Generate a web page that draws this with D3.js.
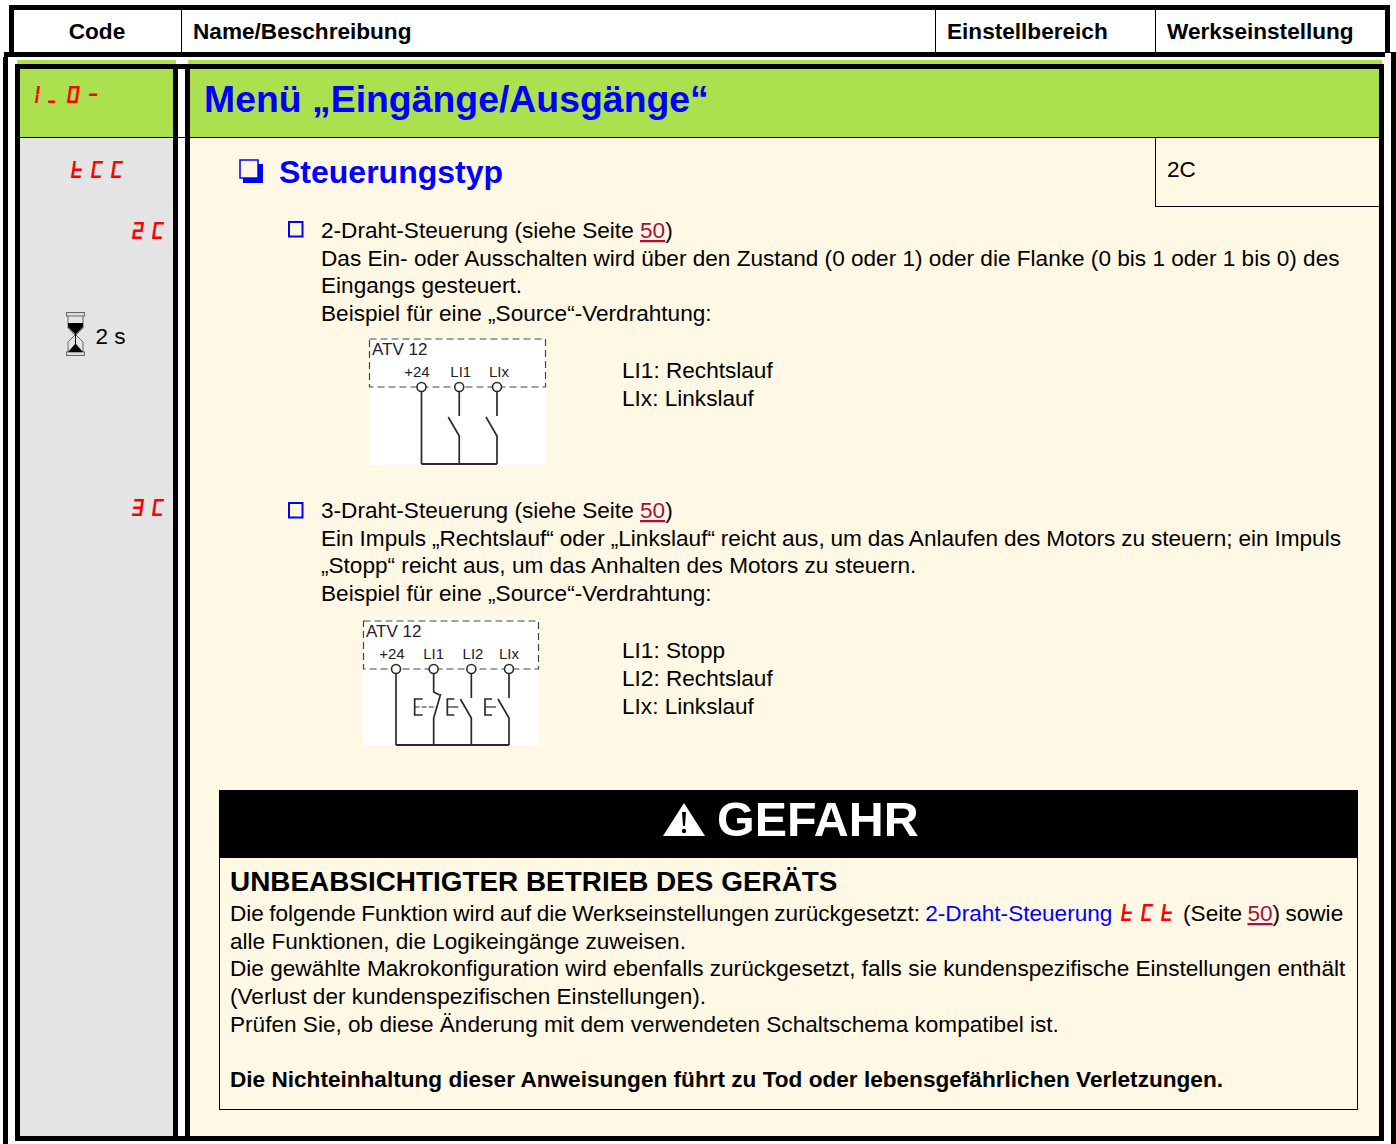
<!DOCTYPE html>
<html lang="de">
<head>
<meta charset="utf-8">
<script src="https://cdn.jsdelivr.net/npm/d3@7"></script>
<style>
    html, body { margin: 0; padding: 0; background: #fff; }
    svg { display: block; }
    text { font-family: "Liberation Sans", Arial, sans-serif; white-space: pre; }
</style>
</head>
<body>
<div id="page"></div>
<script>
// texts of the page
const headerLabels = ["Code", "Name/Beschreibung", "Einstellbereich", "Werkseinstellung"];
const menuCode = "I_O-";
const menuTitle = "Menü „Eingänge/Ausgänge“";
const paramCode = "tCC";
const paramTitle = "Steuerungstyp";
const defaultValue = "2C";
const timeLabel = "2 s";

const twoWireCode = "2C";
const twoWireLines = [
    [["2-Draht-Steuerung (siehe Seite "], ["50", "link"], [")"]],
    [["Das Ein- oder Ausschalten wird über den Zustand (0 oder 1) oder die Flanke (0 bis 1 oder 1 bis 0) des"]],
    [["Eingangs gesteuert."]],
    [["Beispiel für eine „Source“-Verdrahtung:"]]
];
const twoWireTerminals = ["+24", "LI1", "LIx"];
const twoWireLegend = ["LI1: Rechtslauf", "LIx: Linkslauf"];

const threeWireCode = "3C";
const threeWireLines = [
    [["3-Draht-Steuerung (siehe Seite "], ["50", "link"], [")"]],
    [["Ein Impuls „Rechtslauf“ oder „Linkslauf“ reicht aus, um das Anlaufen des Motors zu steuern; ein Impuls"]],
    [["„Stopp“ reicht aus, um das Anhalten des Motors zu steuern."]],
    [["Beispiel für eine „Source“-Verdrahtung:"]]
];
const threeWireTerminals = ["+24", "LI1", "LI2", "LIx"];
const threeWireLegend = ["LI1: Stopp", "LI2: Rechtslauf", "LIx: Linkslauf"];

const dangerTitle = "GEFAHR";
const dangerHeading = "UNBEABSICHTIGTER BETRIEB DES GERÄTS";
const dangerLines = [
    [["Die folgende Funktion wird auf die Werkseinstellungen zurückgesetzt: "], ["2-Draht-Steuerung ", "blue"], ["tCt", "seg"], [" (Seite ", "afterSeg"], ["50", "link"], [") sowie"]],
    [["alle Funktionen, die Logikeingänge zuweisen."]],
    [["Die gewählte Makrokonfiguration wird ebenfalls zurückgesetzt, falls sie kundenspezifische Einstellungen enthält"]],
    [["(Verlust der kundenspezifischen Einstellungen)."]],
    [["Prüfen Sie, ob diese Änderung mit dem verwendeten Schaltschema kompatibel ist."]],
    [[""]],
    [["Die Nichteinhaltung dieser Anweisungen führt zu Tod oder lebensgefährlichen Verletzungen.", "bold"]]
];

const GREEN = "#abe14e";
const CREAM = "#fff8e5";
const GREY = "#e4e4e4";
const BLUE = "#0000ff";
const RED = "#ff0000";
const LINK = "#a5103c";
const BODY_SIZE = 22.6;
const SEG_SIZE = 20;
const LINE_H = 27.7;

// 7-segment display font for the red codes, built here so they stay real text.
// segments of each character, width and advance in font units
const SEG_H = 830;
const SEG_T = 125;
const SEG_SLANT = 0.15;
const segGlyphs = {
    "-": { segs: "g", w: 400, adv: 500 },
    "2": { segs: "abged", w: 480, adv: 1000 },
    "3": { segs: "abgcd", w: 480, adv: 1000 },
    "C": { segs: "afed", w: 480, adv: 1000 },
    "I": { segs: "fe", w: SEG_T, adv: 650 },
    "O": { segs: "abcdef", w: 520, adv: 1100 },
    "_": { segs: "d", w: 350, adv: 950 },
    "t": { segs: "fegd", w: 480, adv: 1000 }
};

function u16(v) { return [(v >> 8) & 255, v & 255]; }
function u32(v) { return [(v >>> 24) & 255, (v >>> 16) & 255, (v >>> 8) & 255, v & 255]; }

function segRects(g) {
    const w = g.w, h = SEG_H, t = SEG_T;
    const rects = {
        a: [0, h - t, w, h],
        b: [w - t, h / 2, w, h],
        c: [w - t, 0, w, h / 2],
        d: [0, 0, w, t],
        e: [0, 0, t, h / 2],
        f: [0, h / 2, t, h],
        g: [0, h / 2 - t / 2, w, h / 2 + t / 2]
    };
    return Array.from(g.segs, s => rects[s]);
}

function glyphBytes(g) {
    const pts = [];
    const ends = [];
    segRects(g).forEach(([x0, y0, x1, y1]) => {
        [[x0, y0], [x0, y1], [x1, y1], [x1, y0]].forEach(([x, y]) => {
            pts.push([Math.round(x + y * SEG_SLANT), Math.round(y)]);
        });
        ends.push(pts.length - 1);
    });
    let out = [...u16(ends.length)];
    [d3.min(pts, p => p[0]), d3.min(pts, p => p[1]), d3.max(pts, p => p[0]), d3.max(pts, p => p[1])]
        .forEach(v => { out = out.concat(u16(v)); });
    ends.forEach(e => { out = out.concat(u16(e)); });
    out = out.concat(u16(0));
    pts.forEach(() => out.push(1));
    let prev = 0;
    pts.forEach(p => { out = out.concat(u16(p[0] - prev)); prev = p[0]; });
    prev = 0;
    pts.forEach(p => { out = out.concat(u16(p[1] - prev)); prev = p[1]; });
    while (out.length % 4) out.push(0);
    return { out, count: pts.length, contours: ends.length };
}

function buildSegFont() {
    const chars = Object.keys(segGlyphs).sort();
    const built = chars.map(c => glyphBytes(segGlyphs[c]));
    const advMax = d3.max(chars, c => segGlyphs[c].adv);

    let glyf = [];
    let loca = [...u32(0), ...u32(0)]; // .notdef is empty
    built.forEach(b => { glyf = glyf.concat(b.out); loca = loca.concat(u32(glyf.length)); });

    let hmtx = [...u16(1000), ...u16(0)];
    chars.forEach(c => { hmtx = hmtx.concat(u16(segGlyphs[c].adv), u16(0)); });

    const zeros = n => new Array(n).fill(0);
    const head = [...u32(0x00010000), ...u32(0x00010000), ...u32(0), ...u32(0x5F0F3CF5), ...u16(0), ...u16(1000),
        ...zeros(16), ...u16(0), ...u16(0), ...u16(1200), ...u16(1000), ...u16(0), ...u16(8), ...u16(2), ...u16(1), ...u16(0)];
    const hhea = [...u32(0x00010000), ...u16(1000), ...u16(65336), ...u16(0), ...u16(advMax), ...u16(0), ...u16(0), ...u16(1200),
        ...u16(1), ...u16(0), ...u16(0), ...zeros(8), ...u16(0), ...u16(chars.length + 1)];
    const maxp = [...u32(0x00010000), ...u16(chars.length + 1), ...u16(d3.max(built, b => b.count)), ...u16(d3.max(built, b => b.contours)),
        ...u16(0), ...u16(0), ...u16(1), ...zeros(16)];
    const post = [...u32(0x00030000), ...zeros(28)];
    const os2 = [...u16(0), ...u16(800), ...u16(400), ...u16(5), ...u16(0), ...zeros(20), ...zeros(2), ...zeros(10), ...zeros(16),
        65, 66, 67, 68, ...u16(0x40), ...u16(chars[0].charCodeAt(0)), ...u16(chars[chars.length - 1].charCodeAt(0)),
        ...u16(1000), ...u16(65336), ...u16(0), ...u16(1000), ...u16(200)];

    // cmap format 4, one segment per character
    const codes = chars.map(c => c.charCodeAt(0));
    const segCount = codes.length + 1;
    const entrySel = Math.floor(Math.log2(segCount));
    const searchRange = 2 * (1 << entrySel);
    const cmap = [...u16(0), ...u16(1), ...u16(3), ...u16(1), ...u32(12), ...u16(4), ...u16(16 + 8 * segCount), ...u16(0),
        ...u16(segCount * 2), ...u16(searchRange), ...u16(entrySel), ...u16(segCount * 2 - searchRange),
        ...codes.flatMap(c => u16(c)), ...u16(0xFFFF), ...u16(0),
        ...codes.flatMap(c => u16(c)), ...u16(0xFFFF),
        ...codes.flatMap((c, i) => u16((i + 1 - c) & 0xFFFF)), ...u16(1),
        ...zeros(segCount * 2)];

    // name table
    const nameStr = Array.from("Seg7").flatMap(c => u16(c.charCodeAt(0)));
    const nameIds = [1, 4, 6];
    const name = [...u16(0), ...u16(nameIds.length), ...u16(6 + 12 * nameIds.length),
        ...nameIds.flatMap(id => [...u16(3), ...u16(1), ...u16(0x409), ...u16(id), ...u16(nameStr.length), ...u16(0)]),
        ...nameStr];

    const tables = [["OS/2", os2], ["cmap", cmap], ["glyf", glyf], ["head", head], ["hhea", hhea],
        ["hmtx", hmtx], ["loca", loca], ["maxp", maxp], ["name", name], ["post", post]];

    let dir = [...u32(0x00010000), ...u16(tables.length), ...u16(128), ...u16(3), ...u16(tables.length * 16 - 128)];
    let body = [];
    const start = 12 + 16 * tables.length;
    tables.forEach(([tag, data]) => {
        const padded = data.concat(zeros((4 - data.length % 4) % 4));
        let sum = 0;
        for (let i = 0; i < padded.length; i += 4) {
            sum = (sum + ((padded[i] << 24) | (padded[i + 1] << 16) | (padded[i + 2] << 8) | padded[i + 3])) >>> 0;
        }
        dir = dir.concat(Array.from(tag, c => c.charCodeAt(0)), u32(sum), u32(start + body.length), u32(data.length));
        body = body.concat(padded);
    });
    return new Uint8Array(dir.concat(body)).buffer;
}

const segFont = new FontFace("Seg7", buildSegFont());
document.fonts.add(segFont);
segFont.load().catch(e => console.log("seg font failed", e));

const svg = d3.select("#page").append("svg")
    .attr("width", 1396)
    .attr("height", 1144)
    .attr("viewBox", "0 0 1396 1144");

function box(x0, y0, x1, y1, fill) {
    return svg.append("rect")
        .attr("x", x0).attr("y", y0)
        .attr("width", x1 - x0).attr("height", y1 - y0)
        .attr("fill", fill);
}

function label(txt, x, y, size, opts = {}) {
    return svg.append("text")
        .attr("x", x).attr("y", y)
        .attr("font-size", size)
        .attr("font-weight", opts.bold ? "bold" : null)
        .attr("text-anchor", opts.anchor || null)
        .attr("fill", opts.fill || "#000")
        .text(txt);
}

// red display code of the drive
function segCode(txt, x, y) {
    return svg.append("text")
        .attr("x", x).attr("y", y)
        .style("font-family", "Seg7, 'Liberation Sans'")
        .attr("font-size", SEG_SIZE)
        .attr("fill", RED)
        .text(txt);
}

// a block of text lines, every line is a list of [text, kind] runs
function textBlock(lines, x, y0, wordSpacing = []) {
    const yscale = d3.scaleLinear().domain([0, 1]).range([y0, y0 + LINE_H]);
    svg.append("g").selectAll("text")
        .data(lines)
        .join("text")
        .attr("x", x)
        .attr("y", (d, i) => yscale(i))
        .attr("font-size", BODY_SIZE)
        .attr("word-spacing", (d, i) => wordSpacing[i] || null)
        .selectAll("tspan")
        .data(d => d)
        .join("tspan")
        .attr("dx", d => ({ seg: 3, afterSeg: -3 })[d[1]] || null)
        .attr("font-weight", d => d[1] === "bold" ? "bold" : null)
        .attr("text-decoration", d => d[1] === "link" ? "underline" : null)
        .attr("fill", d => ({ link: LINK, blue: BLUE, seg: RED })[d[1]] || "#000")
        .style("font-family", d => d[1] === "seg" ? "Seg7, 'Liberation Sans'" : null)
        .style("font-size", d => d[1] === "seg" ? SEG_SIZE + "px" : null)
        .text(d => d[0]);
}

function bullet(x, y) {
    svg.append("rect")
        .attr("x", x).attr("y", y)
        .attr("width", 13.5).attr("height", 14.5)
        .attr("fill", "none")
        .attr("stroke", BLUE)
        .attr("stroke-width", 2);
}

function legend(items, x, y0) {
    svg.append("g").selectAll("text")
        .data(items)
        .join("text")
        .attr("x", x)
        .attr("y", (d, i) => y0 + i * 28)
        .attr("font-size", BODY_SIZE)
        .text(d => d);
}

const wire = d3.line();
function wirePath(points, width = 1.7) {
    svg.append("path")
        .attr("d", wire(points))
        .attr("fill", "none")
        .attr("stroke", "#2a2a2a")
        .attr("stroke-width", width);
}

// the little wiring diagram, contacts: "none", "no" (normally open), "nc" (normally closed)
function diagram(x0, y0, x1, y1, terminals, contacts, xrange, labelOffsets, hasPush) {
    box(x0, y0, x1, y1, "#fff");
    const boxBottom = y0 + 49;
    svg.append("rect")
        .attr("x", x0 + 0.5).attr("y", y0 + 1)
        .attr("width", x1 - x0 - 1).attr("height", 48)
        .attr("fill", "none")
        .attr("stroke", "#444")
        .attr("stroke-width", 1.2)
        .attr("stroke-dasharray", "7,4");
    label("ATV 12", x0 + 3, y0 + 17, 17, { fill: "#222" });

    const xscale = d3.scalePoint().domain(terminals).range(xrange);
    const stubEnd = boxBottom + 29;
    const contactEnd = boxBottom + 49;

    svg.append("g").selectAll("text")
        .data(terminals)
        .join("text")
        .attr("x", (d, i) => xscale(d) + labelOffsets[i])
        .attr("y", boxBottom - 10)
        .attr("text-anchor", "middle")
        .attr("font-size", 15)
        .attr("fill", "#222")
        .text(d => d);

    terminals.forEach((t, i) => {
        const x = xscale(t);
        const kind = contacts[i];
        if (kind === "none") {
            wirePath([[x, boxBottom + 5], [x, y1 - 1]]);
        } else if (kind === "no") {
            wirePath([[x, boxBottom + 5], [x, stubEnd]]);
            wirePath([[x - 11, stubEnd + 1], [x, contactEnd], [x, y1 - 1]]);
            if (hasPush) {
                wirePath([[x - 17, stubEnd + 1], [x - 24, stubEnd + 1], [x - 24, stubEnd + 17], [x - 17, stubEnd + 17]]);
                wirePath([[x - 24, stubEnd + 9], [x - 13, stubEnd + 9]], 1.2);
            }
        } else {
            wirePath([[x, boxBottom + 5], [x, stubEnd - 6], [x + 6, stubEnd - 3]]);
            wirePath([[x + 7, stubEnd - 4], [x, contactEnd], [x, y1 - 1]]);
            wirePath([[x - 11, stubEnd + 1], [x - 19, stubEnd + 1], [x - 19, stubEnd + 17], [x - 11, stubEnd + 17]]);
            svg.append("path")
                .attr("d", wire([[x - 19, stubEnd + 9], [x + 3, stubEnd + 9]]))
                .attr("stroke", "#2a2a2a")
                .attr("stroke-dasharray", "5,2");
        }
        svg.append("circle")
            .attr("cx", x).attr("cy", boxBottom)
            .attr("r", 4.5)
            .attr("fill", "#fff")
            .attr("stroke", "#2a2a2a")
            .attr("stroke-width", 1.6);
    });
    wirePath([[xrange[0], y1 - 1], [xrange[1], y1 - 1]], 1.8);
}

function hourglass(x, y) {
    const g = svg.append("g").attr("transform", `translate(${x},${y})`);
    g.append("rect").attr("x", 0.5).attr("y", 0.5).attr("width", 18).attr("height", 3.5).attr("fill", "#ddd").attr("stroke", "#666");
    g.append("rect").attr("x", 0.5).attr("y", 40).attr("width", 18).attr("height", 3.5).attr("fill", "#ddd").attr("stroke", "#666");
    g.append("path").attr("d", "M2,4V16L9,23L2,30V40M17,4V16L10,23L17,30V40").attr("fill", "none").attr("stroke", "#666").attr("stroke-width", 1);
    g.append("path").attr("d", "M2,11H17V15L10,22H9L2,15Z").attr("fill", "#000");
    g.append("path").attr("d", "M9,22H10V32L17,40H2L9,32Z").attr("fill", "#000");
}

function drawHeader() {
    box(9, 5, 1390, 52, "#000");
    box(14, 10, 1385, 52, "#fff");
    box(181, 10, 182, 52, "#000");
    box(935, 10, 936, 52, "#000");
    box(1155, 10, 1156, 52, "#000");
    label(headerLabels[0], 97, 39, BODY_SIZE, { bold: true, anchor: "middle" });
    label(headerLabels[1], 193, 39, BODY_SIZE, { bold: true });
    label(headerLabels[2], 947, 39, BODY_SIZE, { bold: true });
    label(headerLabels[3], 1167, 39, BODY_SIZE, { bold: true });
}

function drawFrame() {
    // outer frame, open at the bottom edge
    box(4, 52, 1385, 57, "#000");
    box(1385, 52, 1396, 53, "#000");
    box(3, 57, 8, 1144, "#000");
    box(1391, 53, 1396, 1144, "#000");
    box(8, 57, 1391, 1144, "#fff");
    box(1385, 53, 1391, 57, "#fff");

    // green strips above the inner frame
    box(17, 60, 176, 64, GREEN);
    box(188, 60, 1382, 64, GREEN);

    // inner cells
    box(15, 64, 1384, 1141, "#000");
    box(20, 69, 173, 137, GREEN);
    box(190, 69, 1379, 137, GREEN);
    box(20, 138, 173, 1136, GREY);
    box(190, 138, 1379, 1136, CREAM);
    box(178, 69, 185, 1136, "#fff");
    box(178, 137, 190, 138, "#000");

    // value cell
    box(1155, 137, 1156, 207, "#000");
    box(1155, 206, 1379, 207, "#000");
}

function drawMenu() {
    segCode(menuCode, 35, 102.5);
    label(menuTitle, 204, 112, 37.4, { bold: true, fill: BLUE });
    segCode(paramCode, 71, 177.5);
    label(paramTitle, 279, 183, 32, { bold: true, fill: BLUE });
    label(defaultValue, 1167, 177, BODY_SIZE);

    // shadowed square in front of the title
    box(243, 164, 263, 183, BLUE);
    svg.append("rect")
        .attr("x", 240).attr("y", 160)
        .attr("width", 18).attr("height", 18)
        .attr("fill", CREAM)
        .attr("stroke", BLUE)
        .attr("stroke-width", 1.5);
}

function drawTwoWire() {
    segCode(twoWireCode, 131.5, 239);
    hourglass(66, 312);
    label(timeLabel, 95.5, 344, BODY_SIZE);
    bullet(289, 222);
    textBlock(twoWireLines, 321, 238);
    diagram(369, 338, 546, 465, twoWireTerminals, ["none", "no", "no"], [421.5, 497], [-4.5, 1.5, 2], false);
    legend(twoWireLegend, 622, 378);
}

function drawThreeWire() {
    segCode(threeWireCode, 131.5, 516);
    bullet(289, 503);
    textBlock(threeWireLines, 321, 518, [0, -0.4]);
    diagram(363, 620, 539, 746, threeWireTerminals, ["none", "nc", "no", "no"], [396, 509], [-4, 0, 1.7, 0], true);
    legend(threeWireLegend, 622, 658);
}

function drawDanger() {
    box(219, 790, 1358, 1110, "#000");
    box(220, 858, 1357, 1109, CREAM);

    const warn = svg.append("g").attr("transform", "translate(684,803)");
    warn.append("path").attr("d", "M0,0L21,33H-21Z").attr("fill", "#fff");
    warn.append("path").attr("d", "M-2,9H2L1,23H-1Z").attr("fill", "#000");
    warn.append("circle").attr("cy", 28).attr("r", 2.2).attr("fill", "#000");

    label(dangerTitle, 717, 836, 48.4, { bold: true, fill: "#fff" });
    label(dangerHeading, 230, 891, 27.9, { bold: true });
    textBlock(dangerLines, 230, 921, [-0.95]);
}

drawHeader();
drawFrame();
drawMenu();
drawTwoWire();
drawThreeWire();
drawDanger();
</script>
</body>
</html>
